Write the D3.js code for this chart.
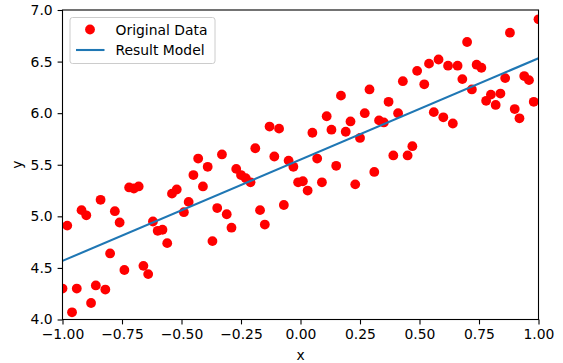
<!DOCTYPE html>
<html>
<head>
<meta charset="utf-8">
<script src="https://d3js.org/d3.v7.min.js"></script>
<style>
  body { margin: 0; background: #fff; }
  svg { font-family: "DejaVu Sans", sans-serif; }
</style>
</head>
<body>
<div id="chart"></div>
<script>
// data
const xValues = [
  -1.00, -0.98, -0.96, -0.94, -0.92, -0.90, -0.88, -0.86, -0.84, -0.82,
  -0.80, -0.78, -0.76, -0.74, -0.72, -0.70, -0.68, -0.66, -0.64, -0.62,
  -0.60, -0.58, -0.56, -0.54, -0.52, -0.49, -0.47, -0.45, -0.43, -0.41,
  -0.39, -0.37, -0.35, -0.33, -0.31, -0.29, -0.27, -0.25, -0.23, -0.21,
  -0.19, -0.17, -0.15, -0.13, -0.11, -0.09, -0.07, -0.05, -0.03, -0.01,
  0.01, 0.03, 0.05, 0.07, 0.09, 0.11, 0.13, 0.15, 0.17, 0.19,
  0.21, 0.23, 0.25, 0.27, 0.29, 0.31, 0.33, 0.35, 0.37, 0.39,
  0.41, 0.43, 0.45, 0.47, 0.49, 0.52, 0.54, 0.56, 0.58, 0.60,
  0.62, 0.64, 0.66, 0.68, 0.70, 0.72, 0.74, 0.76, 0.78, 0.80,
  0.82, 0.84, 0.86, 0.88, 0.90, 0.92, 0.94, 0.96, 0.98, 1.00
];
const yValues = [
  4.30, 4.91, 4.07, 4.30, 5.06, 5.01, 4.16, 4.33, 5.16, 4.29,
  4.64, 5.05, 4.94, 4.48, 5.28, 5.27, 5.29, 4.52, 4.44, 4.95,
  4.86, 4.87, 4.74, 5.22, 5.26, 5.04, 5.14, 5.40, 5.56, 5.29,
  5.48, 4.76, 5.08, 5.60, 5.02, 4.89, 5.46, 5.40, 5.37, 5.33,
  5.66, 5.06, 4.92, 5.87, 5.58, 5.85, 5.11, 5.54, 5.48, 5.33,
  5.34, 5.25, 5.81, 5.56, 5.33, 5.97, 5.84, 5.49, 6.17, 5.82,
  5.92, 5.31, 5.76, 6.00, 6.23, 5.43, 5.93, 5.91, 6.11, 5.59,
  6.00, 6.31, 5.59, 5.68, 6.41, 6.28, 6.48, 6.01, 6.52, 5.96,
  6.46, 5.90, 6.46, 6.33, 6.69, 6.23, 6.47, 6.44, 6.12, 6.18,
  6.08, 6.19, 6.34, 6.78, 6.04, 5.95, 6.36, 6.32, 6.11, 6.91
];
// fitted line end points
const modelX = [-1.0, 1.0];
const modelY = [4.568, 6.532];

const xTicks = [-1.0, -0.75, -0.5, -0.25, 0, 0.25, 0.5, 0.75, 1.0];
const yTicks = [4.0, 4.5, 5.0, 5.5, 6.0, 6.5, 7.0];
const legendLabels = ['Original Data', 'Result Model'];

const width = 563, height = 363;
const margin = { top: 10, right: 24.5, bottom: 43.5, left: 62.5 };
const fontSize = 13.9;
const tickLen = 4.9;

const svg = d3.select('#chart').append('svg')
  .attr('width', width)
  .attr('height', height);

const x = d3.scaleLinear().domain([-1, 1]).range([margin.left, width - margin.right]);
const y = d3.scaleLinear().domain([4, 7]).range([height - margin.bottom, margin.top]);

// clip so the edge points get cut like matplotlib
svg.append('defs').append('clipPath').attr('id', 'plotclip')
  .append('rect')
  .attr('x', margin.left).attr('y', margin.top)
  .attr('width', x(1) - x(-1)).attr('height', y(4) - y(7));

const plot = svg.append('g').attr('clip-path', 'url(#plotclip)');

plot.selectAll('.dot')
  .data(d3.zip(xValues, yValues))
  .enter().append('circle')
  .attr('class', 'dot')
  .attr('cx', d => x(d[0]))
  .attr('cy', d => y(d[1]))
  .attr('r', 4.9)
  .attr('fill', '#ff0000');

plot.append('path')
  .datum(d3.zip(modelX, modelY))
  .attr('d', d3.line().x(d => x(d[0])).y(d => y(d[1])))
  .attr('fill', 'none')
  .attr('stroke', '#1f77b4')
  .attr('stroke-width', 2.1);

// axes
const fmtX = d => d3.format('.2f')(d).replace('-', '\u2212');
const xAxis = svg.append('g')
  .attr('transform', `translate(0,${y(4)})`)
  .call(d3.axisBottom(x).tickValues(xTicks).tickFormat(fmtX).tickSizeInner(tickLen).tickSizeOuter(0).tickPadding(4.9));
const yAxis = svg.append('g')
  .attr('transform', `translate(${x(-1)},0)`)
  .call(d3.axisLeft(y).tickValues(yTicks).tickFormat(d3.format('.1f')).tickSizeInner(tickLen).tickSizeOuter(0).tickPadding(4.9));

[xAxis, yAxis].forEach(a => {
  a.select('.domain').remove();
  a.selectAll('text').attr('font-size', fontSize).attr('fill', '#000').attr('font-family', '"DejaVu Sans", sans-serif');
  a.selectAll('line').attr('stroke', '#000').attr('stroke-width', 1.1);
});

// frame
svg.append('rect')
  .attr('x', x(-1)).attr('y', y(7))
  .attr('width', x(1) - x(-1)).attr('height', y(4) - y(7))
  .attr('fill', 'none').attr('stroke', '#000').attr('stroke-width', 1.1);

// axis labels
svg.append('text')
  .attr('x', (x(-1) + x(1)) / 2).attr('y', 359.5)
  .attr('text-anchor', 'middle').attr('font-size', fontSize)
  .text('x');
svg.append('text')
  .attr('transform', `translate(22,${(y(4) + y(7)) / 2}) rotate(-90)`)
  .attr('text-anchor', 'middle').attr('font-size', fontSize)
  .text('y');

// legend
const lg = svg.append('g');
lg.append('rect')
  .attr('x', 70).attr('y', 17.5).attr('width', 145).attr('height', 46)
  .attr('rx', 2.5)
  .attr('fill', 'rgba(255,255,255,0.8)')
  .attr('stroke', '#cccccc').attr('stroke-width', 1);
lg.append('circle').attr('cx', 90).attr('cy', 29.5).attr('r', 4.9).attr('fill', '#ff0000');
lg.append('line').attr('x1', 76).attr('x2', 104.5).attr('y1', 50).attr('y2', 50)
  .attr('stroke', '#1f77b4').attr('stroke-width', 2.1);
lg.selectAll('.ltext')
  .data(legendLabels)
  .enter().append('text')
  .attr('class', 'ltext')
  .attr('x', 115.5)
  .attr('y', (d, i) => 34.5 + i * 20.5)
  .attr('font-size', fontSize)
  .text(d => d);
</script>
</body>
</html>
